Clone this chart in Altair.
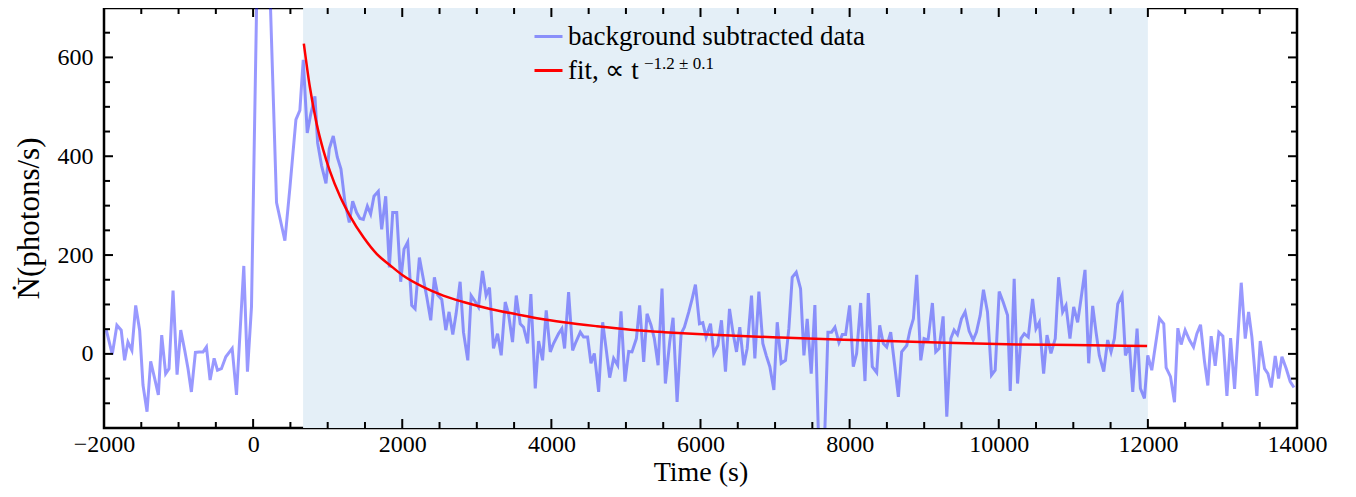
import altair as alt
import pandas as pd

# ---------------- data ----------------
time_s = [
    -1969, -1889, -1827, -1769, -1724, -1679, -1626, -1575, -1522, -1477,
    -1423, -1374, -1320, -1271, -1226, -1173, -1128, -1074, -1020, -971,
    -917, -873, -828, -774, -725, -671, -626, -577, -523, -478,
    -425, -366, -281, -223, -125, -76, -22,
    80, 130, 180,
    314, 426, 493, 574, 627, 672, 726, 771, 829, 865,
    918, 977, 1021, 1075, 1129, 1178, 1232, 1290, 1335, 1388,
    1433, 1478, 1532, 1576, 1621, 1679, 1724, 1778, 1827, 1872,
    1926, 1979, 2024, 2073, 2127, 2172, 2230, 2275, 2329, 2382,
    2431, 2476, 2530, 2584, 2628, 2678, 2722, 2776, 2821, 2879,
    2924, 2969, 3022, 3076, 3125, 3170, 3224, 3278, 3327, 3381,
    3425, 3479, 3529, 3582, 3627, 3681, 3725, 3784, 3829, 3882,
    3931, 3985, 4029, 4097, 4141, 4177, 4231, 4285, 4329, 4388,
    4432, 4486, 4531, 4576, 4634, 4688, 4737, 4782, 4835, 4889,
    4934, 4987, 5037, 5081, 5140, 5184, 5238, 5283, 5337, 5381,
    5431, 5484, 5529, 5587, 5632, 5686, 5740, 5784, 5843, 5887,
    5932, 5986, 6031, 6075, 6134, 6178, 6232, 6281, 6335, 6389,
    6438, 6483, 6527, 6581, 6626, 6684, 6729, 6783, 6836, 6881,
    6930, 6984, 7029, 7082, 7140, 7185, 7230, 7284, 7342, 7387,
    7431, 7485, 7534, 7588, 7646, 7709, 7758, 7803, 7857, 7902,
    7946, 8000, 8049, 8094, 8148, 8206, 8251, 8304, 8363, 8403,
    8452, 8497, 8551, 8604, 8654, 8698, 8766, 8810, 8855, 8900,
    8954, 8998, 9052, 9110, 9155, 9200, 9254, 9303, 9357, 9401,
    9446, 9500, 9549, 9603, 9657, 9701, 9751, 9795, 9849, 9903,
    9952, 10006, 10059, 10118, 10154, 10207, 10252, 10297, 10342, 10396,
    10454, 10499, 10544, 10602, 10647, 10700, 10758, 10803, 10857, 10902,
    10955, 11005, 11058, 11103, 11157, 11206, 11260, 11305, 11349, 11408,
    11461, 11506, 11551, 11596, 11654, 11699, 11752, 11797, 11855, 11900,
    11954, 11999, 12052, 12155, 12213, 12245, 12303, 12357, 12402, 12446,
    12500, 12558, 12612, 12657, 12706, 12760, 12804, 12849, 12903, 12952,
    13006, 13060, 13109, 13163, 13252, 13306, 13351, 13395, 13462, 13507,
    13565, 13610, 13655, 13708, 13753, 13798, 13856, 13909, 13959,
]
rate = [
    48, -1, 58, 48, -13, 24, 7, 98, 48, -63,
    -117, -15, -50, -83, 38, -40, -30, 128, -42, 48,
    7, -30, -77, 3, 4, 4, 14, -53, -9, -33,
    -30, -6, 11, -83, 178, -36, 95,
    1000, 1250, 960,
    306, 229, 336, 474, 493, 595, 447, 484, 521, 427,
    381, 345, 415, 441, 398, 374, 306, 266, 309, 286,
    274, 272, 299, 283, 319, 329, 252, 319, 175, 286,
    286, 146, 212, 226, 98, 91, 195, 158, 115, 68,
    155, 119, 110, 48, 85, 39, 81, 146, 44, -13,
    118, 108, 95, 168, 118, 134, 11, 41, -3, 105,
    81, 24, 118, 61, 54, 21, 121, -70, 26, -13,
    88, 4, 21, 41, 51, 11, 125, 7, 24, 44,
    34, 34, -19, 1, -77, 64, 7, -48, -9, -23,
    86, -56, 5, 4, 31, 98, -16, 81, 58, 31,
    -23, 132, -60, 24, 73, -97, 41, 54, 85, 111,
    140, 61, 63, 34, 61, 1, 17, 68, -36, 91,
    41, 4, 54, -23, 11, 118, -9, 126, 21, -3,
    -26, -73, 64, -19, -13, 51, 155, 165, 132, -3,
    71, -40, 99, -200, -260, 44, 44, 54, 23, 39,
    39, 98, -26, 1, 103, -55, 123, -26, -38, 58,
    21, 14, 44, -23, -87, 4, 17, 48, 71, 160,
    -13, 31, 28, 103, 4, 11, 76, -127, 31, 48,
    39, 71, 85, 46, 28, 44, 78, 130, 85, -43,
    -33, 126, 105, 78, -75, 152, -60, 31, 41, 34,
    111, 51, 64, -40, 38, 1, 31, 155, 85, 98,
    31, 95, 64, 111, 170, -19, 97, 44, -3, -36,
    28, 4, 31, 101, 119, -3, 17, -77, 51, -70,
    -90, -3, -33, 72, 61, -28, -46, -98, 52, 19,
    48, 28, 14, 41, 59, -16, -64, 36, -24, 44,
    36, -85, 32, -71, 144, 31, 85, 34, -85, 26,
    -30, -40, -68, -4, -50, -6, -30, -56, -68,
]
fit_t = [680, 760, 850, 940, 1030, 1165, 1300, 1480, 1660, 1840,
         2015, 2285, 2550, 2820, 3180, 3540, 3850, 4165, 4610, 5060,
         5510, 5955, 6400, 7075, 8060, 9180, 10300, 11000, 11990]
fit_rate = [628, 541, 467, 413, 370, 319, 279, 236, 202, 179,
            158, 135, 118, 105, 91, 80, 71, 64, 56, 49,
            44, 40, 37, 33, 28, 23, 19, 18, 16]
span_start = 670
span_end = 12000
series_names = ["background subtracted data", "fit, \u221d t"]
fit_exponent = "\u22121.2 \u00b1 0.1"
x_title = "Time (s)"
y_title = "\u1e44(photons/s)"

x_major = [-2000, 0, 2000, 4000, 6000, 8000, 10000, 12000, 14000]
x_minor = [-1500, -1000, -500, 500, 1000, 1500, 2500, 3000, 3500, 4500, 5000,
           5500, 6500, 7000, 7500, 8500, 9000, 9500, 10500, 11000, 11500,
           12500, 13000, 13500]
y_major = [0, 200, 400, 600]
y_minor = [-100, -50, 50, 100, 150, 250, 300, 350, 450, 500, 550, 650]

# ---------------- styling ----------------
W, H = 1193, 420
FONT = "Liberation Serif"
MAJ, MIN = 9, 6

xs = alt.Scale(domain=[-2000, 14000], nice=False, zero=False)
ys = alt.Scale(domain=[-150, 700], nice=False, zero=False)
cs = alt.Scale(domain=series_names, range=["rgba(0,0,255,0.4)", "#ff0000"])

x_axis = alt.Axis(values=x_major, format="d", ticks=False, domain=False, grid=False,
                  labelFont=FONT, labelFontSize=24, labelColor="black", labelPadding=4,
                  labelFlush=False, labelOverlap=False,
                  title=x_title, titleFont=FONT, titleFontSize=28,
                  titleFontWeight="normal", titleColor="black", titlePadding=2)
y_axis = alt.Axis(values=y_major, format="d", ticks=False, domain=False, grid=False,
                  labelFont=FONT, labelFontSize=24, labelColor="black", labelPadding=11,
                  labelFlush=False, labelOverlap=False,
                  title=y_title, titleFont=FONT, titleFontSize=31,
                  titleFontWeight="normal", titleColor="black", titlePadding=12)

X = lambda f: alt.X(f, scale=xs, axis=x_axis, title=x_title)
Y = lambda f: alt.Y(f, scale=ys, axis=y_axis, title=y_title)

data_df = pd.DataFrame({"t": time_s, "rate": rate, "series": series_names[0]})
fit_df = pd.DataFrame({"t": fit_t, "rate": fit_rate, "series": series_names[1]})

shade = alt.Chart(pd.DataFrame({"x0": [span_start], "x1": [span_end]})).mark_rect(
    color="#e4eff7").encode(
    x=X("x0:Q"), x2="x1:Q",
    y=alt.value(0), y2=alt.value(H))

legend = alt.Legend(title=None, orient="none", legendX=429, legendY=13, padding=0,
                    symbolType="stroke", symbolSize=784, symbolStrokeWidth=3,
                    labelFont=FONT, labelFontSize=27, labelColor="black",
                    labelOffset=4, rowPadding=5, labelLimit=0)

data_line = alt.Chart(data_df).mark_line(strokeWidth=3, clip=True).encode(
    x=X("t:Q"), y=Y("rate:Q"),
    color=alt.Color("series:N", scale=cs, legend=legend),
)
fit_line = alt.Chart(fit_df).mark_line(strokeWidth=2.5, interpolate="monotone", clip=True).encode(
    x=X("t:Q"), y=Y("rate:Q"),
    color=alt.Color("series:N", scale=cs, legend=legend),
)

sup = alt.Chart(pd.DataFrame({"txt": [fit_exponent]})).mark_text(
    font=FONT, fontSize=17, align="left", baseline="alphabetic", color="black").encode(
    text="txt:N", x=alt.value(540), y=alt.value(61))


def xticks(vals, length):
    d = pd.DataFrame({"v": vals})
    bottom = alt.Chart(d).mark_rule(color="black", strokeWidth=2).encode(
        x=X("v:Q"), y=alt.value(H), y2=alt.value(H - length))
    top = alt.Chart(d).mark_rule(color="black", strokeWidth=2).encode(
        x=X("v:Q"), y=alt.value(0), y2=alt.value(length))
    return [bottom, top]


def yticks(vals, length):
    d = pd.DataFrame({"v": vals})
    left = alt.Chart(d).mark_rule(color="black", strokeWidth=2).encode(
        y=Y("v:Q"), x=alt.value(0), x2=alt.value(length))
    right = alt.Chart(d).mark_rule(color="black", strokeWidth=2).encode(
        y=Y("v:Q"), x=alt.value(W), x2=alt.value(W - length))
    return [left, right]


layers = [shade, data_line, fit_line, sup]
layers += xticks(x_major, MAJ) + xticks(x_minor, MIN)
layers += yticks(y_major, MAJ) + yticks(y_minor, MIN)

chart = alt.layer(*layers).properties(
    width=W, height=H,
    autosize=alt.AutoSizeParams(type="none"),
    padding={"left": 96, "top": 0, "right": 43, "bottom": 61},
    background="white",
).configure_view(stroke="black", strokeWidth=2.5)

chart.save("out.html", embed_options={"renderer": "svg", "actions": False})
